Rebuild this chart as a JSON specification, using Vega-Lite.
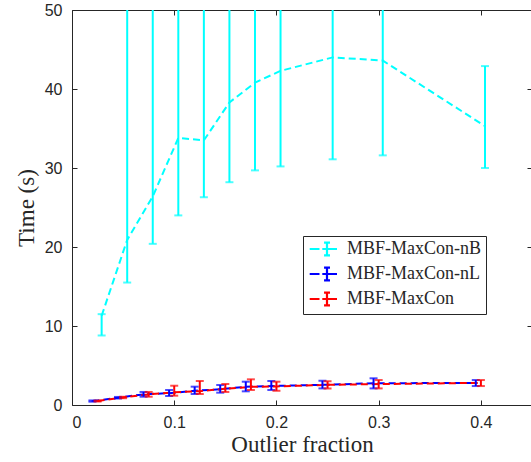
{
  "$schema": "https://vega.github.io/schema/vega-lite/v6.json",
  "width": 460,
  "height": 395,
  "autosize": {"type": "none"},
  "padding": {"left": 72, "top": 10, "right": 0, "bottom": 57},
  "background": "white",
  "config": {
    "view": {"stroke": "#262626", "strokeWidth": 1},
    "axis": {
      "domain": false,
      "grid": false,
      "tickColor": "#262626",
      "tickSize": -5,
      "tickWidth": 1,
      "labelFont": "Liberation Sans",
      "labelFontSize": 16,
      "labelColor": "#262626",
      "titleFont": "Liberation Serif",
      "titleFontSize": 23,
      "titleFontWeight": "normal",
      "titleColor": "#262626"
    }
  },
  "data": {
    "values": [
      {"s": "MBF-MaxCon-nB", "x": 0.029, "m": 11.3, "lo": 8.8, "hi": 11.5},
      {"s": "MBF-MaxCon-nB", "x": 0.054, "m": 20.9, "lo": 15.5, "hi": 62},
      {"s": "MBF-MaxCon-nB", "x": 0.079, "m": 26.4, "lo": 20.4, "hi": 60},
      {"s": "MBF-MaxCon-nB", "x": 0.104, "m": 33.8, "lo": 24.0, "hi": 65},
      {"s": "MBF-MaxCon-nB", "x": 0.129, "m": 33.5, "lo": 26.3, "hi": 58},
      {"s": "MBF-MaxCon-nB", "x": 0.154, "m": 38.3, "lo": 28.2, "hi": 60},
      {"s": "MBF-MaxCon-nB", "x": 0.179, "m": 40.8, "lo": 29.7, "hi": 62},
      {"s": "MBF-MaxCon-nB", "x": 0.204, "m": 42.3, "lo": 30.2, "hi": 58},
      {"s": "MBF-MaxCon-nB", "x": 0.255, "m": 44.0, "lo": 31.1, "hi": 60},
      {"s": "MBF-MaxCon-nB", "x": 0.304, "m": 43.6, "lo": 31.6, "hi": 57},
      {"s": "MBF-MaxCon-nB", "x": 0.404, "m": 35.3, "lo": 30.0, "hi": 42.9},
      {"s": "MBF-MaxCon-nL", "x": 0.02, "m": 0.5, "lo": 0.42, "hi": 0.58},
      {"s": "MBF-MaxCon-nL", "x": 0.045, "m": 0.92, "lo": 0.82, "hi": 1.02},
      {"s": "MBF-MaxCon-nL", "x": 0.07, "m": 1.35, "lo": 1.05, "hi": 1.65},
      {"s": "MBF-MaxCon-nL", "x": 0.095, "m": 1.5, "lo": 1.14, "hi": 1.9},
      {"s": "MBF-MaxCon-nL", "x": 0.12, "m": 1.8, "lo": 1.39, "hi": 2.32},
      {"s": "MBF-MaxCon-nL", "x": 0.145, "m": 2.0, "lo": 1.56, "hi": 2.53},
      {"s": "MBF-MaxCon-nL", "x": 0.17, "m": 2.3, "lo": 1.73, "hi": 2.95},
      {"s": "MBF-MaxCon-nL", "x": 0.195, "m": 2.4, "lo": 1.9, "hi": 3.04},
      {"s": "MBF-MaxCon-nL", "x": 0.245, "m": 2.55, "lo": 2.1, "hi": 3.07},
      {"s": "MBF-MaxCon-nL", "x": 0.295, "m": 2.75, "lo": 2.1, "hi": 3.38},
      {"s": "MBF-MaxCon-nL", "x": 0.395, "m": 2.8, "lo": 2.4, "hi": 3.16},
      {"s": "MBF-MaxCon", "x": 0.025, "m": 0.5, "lo": 0.44, "hi": 0.56},
      {"s": "MBF-MaxCon", "x": 0.05, "m": 0.95, "lo": 0.86, "hi": 1.04},
      {"s": "MBF-MaxCon", "x": 0.075, "m": 1.35, "lo": 1.05, "hi": 1.65},
      {"s": "MBF-MaxCon", "x": 0.1, "m": 1.6, "lo": 1.18, "hi": 2.44},
      {"s": "MBF-MaxCon", "x": 0.125, "m": 1.75, "lo": 1.39, "hi": 3.04},
      {"s": "MBF-MaxCon", "x": 0.15, "m": 2.05, "lo": 1.65, "hi": 2.66},
      {"s": "MBF-MaxCon", "x": 0.175, "m": 2.3, "lo": 1.9, "hi": 3.25},
      {"s": "MBF-MaxCon", "x": 0.2, "m": 2.35, "lo": 1.8, "hi": 2.95},
      {"s": "MBF-MaxCon", "x": 0.25, "m": 2.55, "lo": 2.1, "hi": 3.0},
      {"s": "MBF-MaxCon", "x": 0.3, "m": 2.65, "lo": 2.1, "hi": 3.16},
      {"s": "MBF-MaxCon", "x": 0.4, "m": 2.8, "lo": 2.4, "hi": 3.16}
    ]
  },
  "resolve": {"axis": {"x": "independent", "y": "independent"}},
  "layer": [
    {
      "mark": {"type": "line", "strokeDash": [7, 4], "strokeWidth": 2, "clip": true},
      "encoding": {
        "x": {"field": "x", "type": "quantitative", "scale": {"domain": [0, 0.45], "nice": false},
          "axis": {"orient": "bottom", "values": [0, 0.1, 0.2, 0.3, 0.4], "format": "~g", "labelPadding": 14, "title": "Outlier fraction", "titlePadding": 3}},
        "y": {"field": "m", "type": "quantitative", "scale": {"domain": [0, 50], "nice": false},
          "axis": {"orient": "left", "values": [0, 10, 20, 30, 40, 50], "labelPadding": 15, "title": "Time (s)", "titlePadding": 6}},
        "color": {"field": "s", "type": "nominal",
          "scale": {"domain": ["MBF-MaxCon-nB", "MBF-MaxCon-nL", "MBF-MaxCon"], "range": ["#00FFFF", "#0000FF", "#FF0000"]},
          "legend": {
            "title": null,
            "orient": "none",
            "legendX": 231,
            "legendY": 226,
            "padding": 4,
            "strokeColor": "#262626",
            "fillColor": "white",
            "labelFont": "Liberation Serif",
            "labelFontSize": 18,
            "labelColor": "#262626",
            "labelOffset": 15,
            "rowPadding": 3,
            "symbolType": "M-1.9,0H-0.5M0.57,-0.9V0.9M0.15,-0.9H1M0.15,0.9H1M-0.1,0H2",
            "symbolSize": 196,
            "symbolOffset": 7,
            "symbolStrokeWidth": 2.2,
            "symbolDash": [],
            "symbolFillColor": "transparent"
          }},
        "order": {"field": "x", "type": "quantitative"}
      }
    },
    {
      "mark": {"type": "rule", "strokeWidth": 2, "clip": true},
      "encoding": {
        "x": {"field": "x", "type": "quantitative",
          "axis": {"orient": "top", "values": [0, 0.1, 0.2, 0.3, 0.4], "labels": false, "title": null}},
        "y": {"field": "lo", "type": "quantitative",
          "axis": {"orient": "right", "values": [0, 10, 20, 30, 40, 50], "labels": false, "title": null}},
        "y2": {"field": "hi"},
        "color": {"field": "s", "type": "nominal", "legend": null}
      }
    },
    {
      "mark": {"type": "tick", "orient": "horizontal", "size": 8, "thickness": 2, "clip": true},
      "encoding": {
        "x": {"field": "x", "type": "quantitative", "axis": null},
        "y": {"field": "lo", "type": "quantitative", "axis": null},
        "color": {"field": "s", "type": "nominal", "legend": null}
      }
    },
    {
      "mark": {"type": "tick", "orient": "horizontal", "size": 8, "thickness": 2, "clip": true},
      "encoding": {
        "x": {"field": "x", "type": "quantitative", "axis": null},
        "y": {"field": "hi", "type": "quantitative", "axis": null},
        "color": {"field": "s", "type": "nominal", "legend": null}
      }
    }
  ]
}
